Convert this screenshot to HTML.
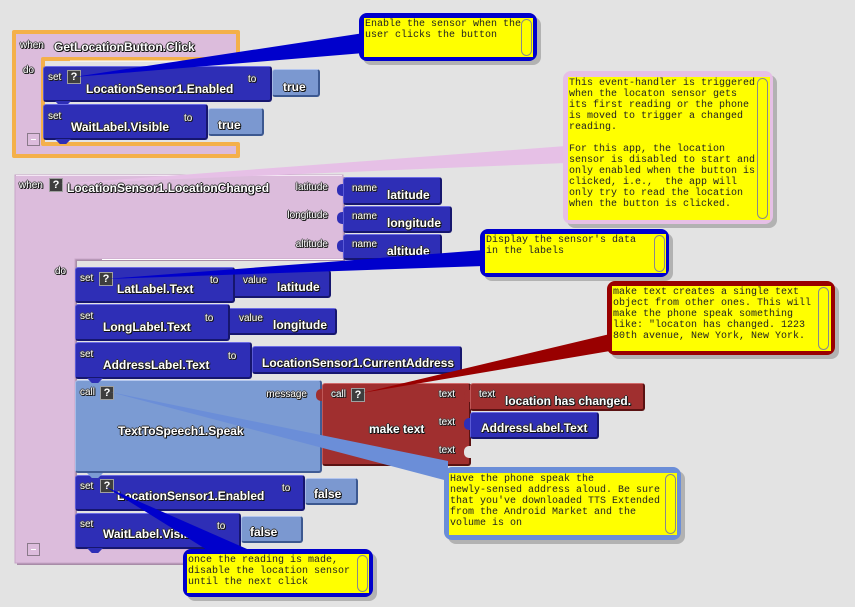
<!DOCTYPE html>
<html><head><meta charset="utf-8"><style>
body{margin:0;padding:0;}
#c{position:relative;width:855px;height:607px;background:#e3e3e3;overflow:hidden;font-family:"Liberation Sans",Arial,sans-serif;}
.a{position:absolute;}
.b{position:absolute;box-sizing:border-box;border-radius:3px;}
.sb{background:#2e2eb6;border-top:1px solid #6c6ce4;border-left:1px solid #5a5ad6;border-right:2px solid #16166e;border-bottom:2px solid #16166e;}
.lv{background:#7b98d0;border-top:1px solid #b4c6ee;border-left:1px solid #a4b8e4;border-right:2px solid #3c5890;border-bottom:2px solid #3c5890;}
.sp{background:#7b9bd3;border-top:1px solid #b6c8ee;border-left:1px solid #a8bce6;border-right:2px solid #405c94;border-bottom:2px solid #405c94;}
.rd{background:#a02f2f;border-top:1px solid #d06a6a;border-left:1px solid #c05858;border-right:2px solid #5a1212;border-bottom:2px solid #5a1212;}
.t{position:absolute;color:#fff;font-weight:bold;font-size:12px;line-height:14px;white-space:nowrap;text-shadow:1px 1px 0 #111,-1px 0 0 #333,0 -1px 0 #333,1px 0 0 #222,0 1px 0 #222;}
.s{position:absolute;color:#fff;font-size:10px;line-height:12px;white-space:nowrap;text-shadow:1px 1px 0 #111,-1px 0 0 #444,0 -1px 0 #444,1px 0 0 #333,0 1px 0 #333;}
.q{position:absolute;width:14px;height:14px;background:#3e3e3e;border:1px solid #a0a0a0;box-sizing:border-box;color:#fff;font-size:11px;font-weight:bold;text-align:center;line-height:12px;}
.tab{position:absolute;width:16px;height:5px;clip-path:polygon(0 0,100% 0,70% 100%,30% 100%);}
.bump{position:absolute;width:7px;height:12px;border-radius:5px 0 0 5px;}
.cm{position:absolute;box-sizing:border-box;border-radius:8px;box-shadow:4px 4px 0 #b2b2b2;}
.y{position:absolute;background:#ffff00;font-family:"Liberation Mono",monospace;font-size:10px;line-height:11px;color:#222;white-space:pre;padding-left:1px;padding-top:1px;box-sizing:border-box;overflow:hidden;}
.sc{position:absolute;width:11px;border:1px solid #8a8a8a;border-radius:6px;box-sizing:border-box;}
.mn{position:absolute;width:13px;height:13px;border:1px solid #8a7a8a;box-sizing:border-box;background:#dcbcdc;}
.mn:after{content:"";position:absolute;left:3px;top:5px;width:5px;height:1px;background:#fff;}
</style></head><body><div id="c">

<!-- event block shapes -->
<svg class="a" style="left:0;top:0" width="855" height="607">
  <path d="M14,32 H238 V59 H43 V144 H238 V156 H14 Z" fill="#dcbcdc" stroke="#f4b04a" stroke-width="4" stroke-linejoin="round"/>
  <line x1="70" y1="61" x2="236" y2="61" stroke="#ffffff" stroke-width="1"/>
  <path d="M17,177 H345 V261 H77 V551 H247 V565 H17 Z" fill="#a88ca8"/>
  <path d="M15,175 H343 V259 H75 V549 H245 V563 H15 Z" fill="#dcbcdc" stroke="#c7a6c7" stroke-width="1"/>
  <line x1="102" y1="259.5" x2="343" y2="259.5" stroke="#ffffff" stroke-width="1"/>
  <line x1="16" y1="175.5" x2="342" y2="175.5" stroke="#f4e6f4" stroke-width="1"/>
</svg>

<!-- Block 1 -->
<span class="s" style="left:20px;top:40px">when</span>
<span class="t" style="left:54px;top:40px">GetLocationButton.Click</span>
<span class="s" style="left:23px;top:65px">do</span>

<div class="bump" style="left:266px;top:76px;background:#7b98d0"></div>
<div class="b lv" style="left:272px;top:69px;width:48px;height:28px"></div>
<span class="t" style="left:283px;top:80px">true</span>
<div class="b sb" style="left:43px;top:66px;width:229px;height:36px"></div>
<div class="tab" style="left:55px;top:101px;background:#2e2eb6"></div>
<span class="s" style="left:48px;top:72px">set</span>
<div class="q" style="left:67px;top:70px">?</div>
<span class="t" style="left:86px;top:82px">LocationSensor1.Enabled</span>
<span class="s" style="left:248px;top:74px">to</span>

<div class="bump" style="left:202px;top:115px;background:#7b98d0"></div>
<div class="b lv" style="left:208px;top:108px;width:56px;height:28px"></div>
<span class="t" style="left:218px;top:118px">true</span>
<div class="b sb" style="left:43px;top:104px;width:165px;height:36px"></div>
<div class="tab" style="left:55px;top:139px;background:#2e2eb6"></div>
<span class="s" style="left:48px;top:111px">set</span>
<span class="t" style="left:71px;top:120px">WaitLabel.Visible</span>
<span class="s" style="left:184px;top:113px">to</span>
<div class="mn" style="left:27px;top:133px"></div>

<!-- Block 2 header -->
<span class="s" style="left:19px;top:180px">when</span>
<div class="q" style="left:49px;top:178px">?</div>
<span class="t" style="left:67px;top:181px">LocationSensor1.LocationChanged</span>
<span class="s" style="right:527px;top:182px">latitude</span>
<span class="s" style="right:527px;top:210px">longitude</span>
<span class="s" style="right:527px;top:239px">altitude</span>

<div class="bump" style="left:337px;top:184px;background:#2e2eb6"></div>
<div class="b sb" style="left:343px;top:177px;width:99px;height:28px"></div>
<span class="s" style="left:352px;top:183px">name</span>
<span class="t" style="left:387px;top:188px">latitude</span>
<div class="bump" style="left:337px;top:212px;background:#2e2eb6"></div>
<div class="b sb" style="left:343px;top:206px;width:109px;height:27px"></div>
<span class="s" style="left:352px;top:211px">name</span>
<span class="t" style="left:387px;top:216px">longitude</span>
<div class="bump" style="left:337px;top:240px;background:#2e2eb6"></div>
<div class="b sb" style="left:343px;top:234px;width:99px;height:26px"></div>
<span class="s" style="left:352px;top:239px">name</span>
<span class="t" style="left:387px;top:244px">altitude</span>

<span class="s" style="left:55px;top:266px">do</span>

<!-- LatLabel -->
<div class="bump" style="left:224px;top:277px;background:#2e2eb6"></div>
<div class="b sb" style="left:230px;top:270px;width:101px;height:28px"></div>
<span class="s" style="left:243px;top:275px">value</span>
<span class="t" style="left:277px;top:280px">latitude</span>
<div class="b sb" style="left:75px;top:267px;width:160px;height:36px"></div>
<span class="s" style="left:80px;top:273px">set</span>
<div class="q" style="left:99px;top:272px">?</div>
<span class="t" style="left:117px;top:282px">LatLabel.Text</span>
<span class="s" style="left:210px;top:275px">to</span>

<!-- LongLabel -->
<div class="bump" style="left:220px;top:315px;background:#2e2eb6"></div>
<div class="b sb" style="left:226px;top:308px;width:111px;height:27px"></div>
<span class="s" style="left:239px;top:313px">value</span>
<span class="t" style="left:273px;top:318px">longitude</span>
<div class="b sb" style="left:75px;top:304px;width:155px;height:37px"></div>
<span class="s" style="left:80px;top:311px">set</span>
<span class="t" style="left:103px;top:320px">LongLabel.Text</span>
<span class="s" style="left:205px;top:313px">to</span>

<!-- AddressLabel -->
<div class="bump" style="left:246px;top:353px;background:#2e2eb6"></div>
<div class="b sb" style="left:252px;top:346px;width:210px;height:28px"></div>
<span class="t" style="left:262px;top:356px">LocationSensor1.CurrentAddress</span>
<div class="b sb" style="left:75px;top:342px;width:177px;height:37px"></div>
<span class="s" style="left:80px;top:349px">set</span>
<span class="t" style="left:103px;top:358px">AddressLabel.Text</span>
<span class="s" style="left:228px;top:351px">to</span>

<!-- Speak -->
<div class="b sp" style="left:75px;top:380px;width:247px;height:93px"></div>
<div class="tab" style="left:87px;top:378px;background:#2e2eb6"></div>
<span class="s" style="left:80px;top:387px">call</span>
<div class="q" style="left:100px;top:386px">?</div>
<span class="t" style="left:118px;top:424px">TextToSpeech1.Speak</span>
<span class="s" style="right:548px;top:389px">message</span>

<!-- make text -->
<div class="bump" style="left:316px;top:389px;background:#a02f2f"></div>
<div class="b rd" style="left:322px;top:383px;width:149px;height:83px"></div>
<span class="s" style="left:331px;top:389px">call</span>
<div class="q" style="left:351px;top:388px">?</div>
<span class="t" style="left:369px;top:422px">make text</span>
<span class="s" style="right:400px;top:389px">text</span>
<span class="s" style="right:400px;top:417px">text</span>
<span class="s" style="right:400px;top:445px">text</span>
<div class="bump" style="left:464px;top:446px;background:#e3e3e3;width:7px"></div>

<div class="bump" style="left:464px;top:390px;background:#a02f2f"></div>
<div class="b rd" style="left:470px;top:383px;width:175px;height:28px"></div>
<span class="s" style="left:479px;top:389px">text</span>
<span class="t" style="left:505px;top:394px">location has changed.</span>
<div class="bump" style="left:464px;top:418px;background:#2e2eb6"></div>
<div class="b sb" style="left:470px;top:412px;width:129px;height:27px"></div>
<span class="t" style="left:481px;top:421px">AddressLabel.Text</span>

<!-- Enabled2 -->
<div class="bump" style="left:299px;top:485px;background:#7b98d0"></div>
<div class="b lv" style="left:305px;top:478px;width:53px;height:27px"></div>
<span class="t" style="left:314px;top:487px">false</span>
<div class="b sb" style="left:75px;top:475px;width:230px;height:36px"></div>
<div class="tab" style="left:87px;top:473px;background:#7b9bd3"></div>
<span class="s" style="left:80px;top:481px">set</span>
<div class="q" style="left:100px;top:479px">?</div>
<span class="t" style="left:117px;top:489px">LocationSensor1.Enabled</span>
<span class="s" style="left:282px;top:483px">to</span>

<!-- Wait2 -->
<div class="bump" style="left:235px;top:523px;background:#7b98d0"></div>
<div class="b lv" style="left:241px;top:516px;width:62px;height:27px"></div>
<span class="t" style="left:250px;top:525px">false</span>
<div class="b sb" style="left:75px;top:513px;width:166px;height:36px"></div>
<div class="tab" style="left:87px;top:548px;background:#2e2eb6"></div>
<span class="s" style="left:80px;top:519px">set</span>
<span class="t" style="left:103px;top:527px">WaitLabel.Visible</span>
<span class="s" style="left:217px;top:521px">to</span>
<div class="mn" style="left:27px;top:543px"></div>

<!-- connectors -->
<svg class="a" style="left:0;top:0" width="855" height="607">
  <polygon points="74,77 364,33 364,53" fill="#0000cc"/>
  <polygon points="60,184 566,146 566,163" fill="#e6c0e6"/>
  <polygon points="106,279 484,250 484,266" fill="#0000cc"/>
  <polygon points="362,393 610,334 610,351" fill="#990000"/>
  <polygon points="110,392 448,461 448,481" fill="#6b8ed8"/>
  <polygon points="106,487 212,553 256,553" fill="#0000cc"/>
</svg>

<!-- comments -->
<div class="cm" style="left:359px;top:13px;width:178px;height:48px;background:#0000cc"></div>
<div class="y" style="left:364px;top:18px;width:169px;height:39px">Enable the sensor when the
user clicks the button</div>
<div class="sc" style="left:521px;top:19px;height:37px"></div>

<div class="cm" style="left:563px;top:71px;width:210px;height:153px;background:#e6c0e6"></div>
<div class="y" style="left:568px;top:77px;width:202px;height:143px">This event-handler is triggered
when the locaton sensor gets
its first reading or the phone
is moved to trigger a changed
reading.

For this app, the location
sensor is disabled to start and
only enabled when the button is
clicked, i.e.,  the app will
only try to read the location
when the button is clicked.</div>
<div class="sc" style="left:757px;top:78px;height:141px"></div>

<div class="cm" style="left:480px;top:229px;width:189px;height:48px;background:#0000cc"></div>
<div class="y" style="left:485px;top:234px;width:181px;height:39px">Display the sensor's data
in the labels</div>
<div class="sc" style="left:654px;top:235px;height:37px"></div>

<div class="cm" style="left:607px;top:281px;width:228px;height:74px;background:#990000"></div>
<div class="y" style="left:612px;top:286px;width:219px;height:65px">make text creates a single text
object from other ones. This will
make the phone speak something
like: "locaton has changed. 1223
80th avenue, New York, New York.</div>
<div class="sc" style="left:818px;top:287px;height:63px"></div>

<div class="cm" style="left:444px;top:467px;width:237px;height:73px;background:#6b8ed8"></div>
<div class="y" style="left:449px;top:473px;width:228px;height:62px">Have the phone speak the
newly-sensed address aloud. Be sure
that you've downloaded TTS Extended
from the Android Market and the
volume is on</div>
<div class="sc" style="left:665px;top:474px;height:60px"></div>

<div class="cm" style="left:183px;top:549px;width:190px;height:48px;background:#0000cc"></div>
<div class="y" style="left:187px;top:554px;width:182px;height:39px">once the reading is made,
disable the location sensor
until the next click</div>
<div class="sc" style="left:357px;top:555px;height:37px"></div>

</div></body></html>
